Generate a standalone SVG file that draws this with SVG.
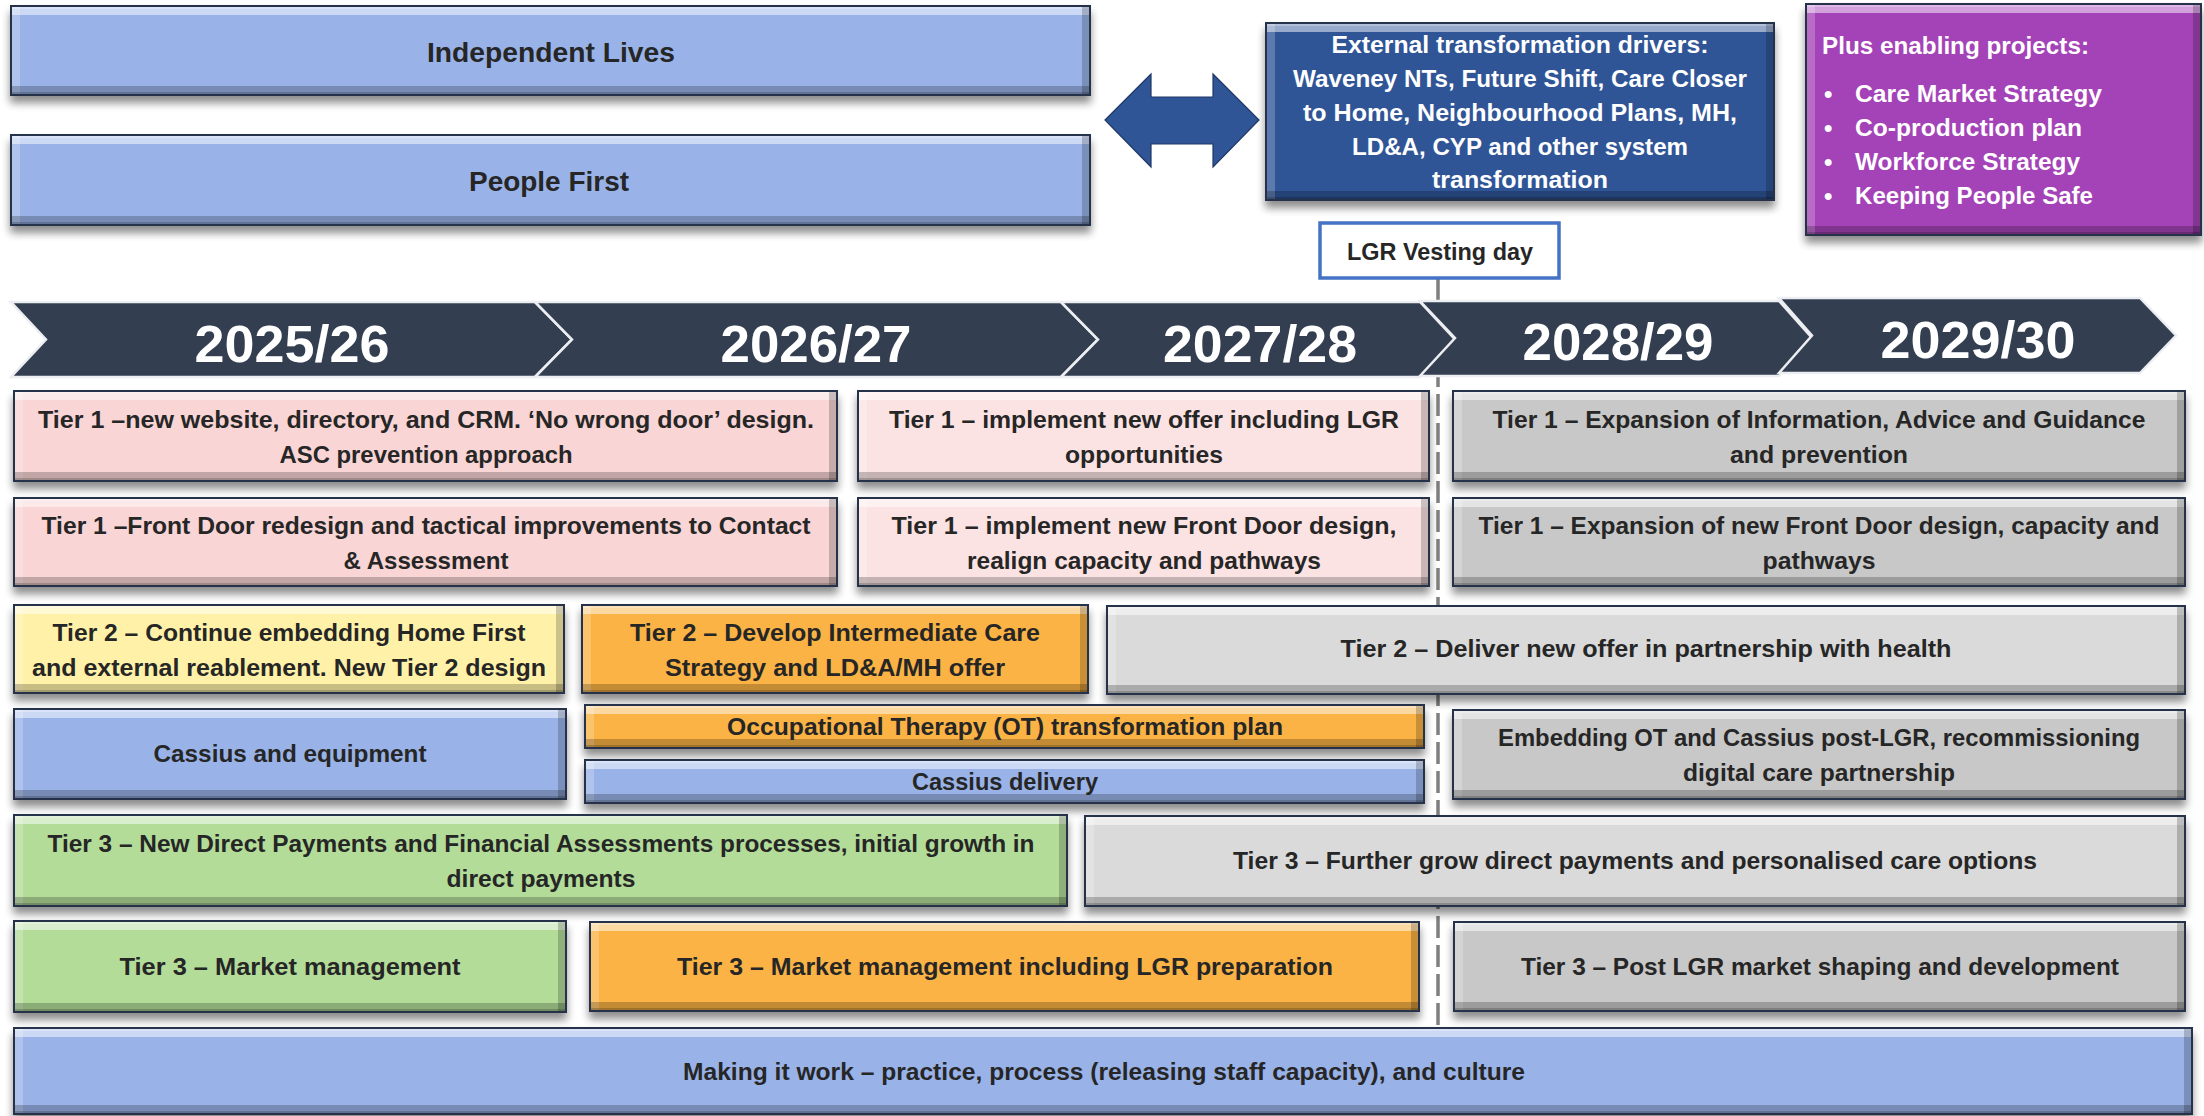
<svg xmlns="http://www.w3.org/2000/svg" width="2204" height="1116" viewBox="0 0 2204 1116">
  <defs>
    <style>
      .t { font-family: "Liberation Sans", Arial, sans-serif; font-weight: bold; font-size: 24px; fill: #262626; text-anchor: middle; }
      .big { font-size: 27px; }
      .w { fill: #ffffff; }
      .s { text-anchor: start; }
      .yr { font-family: "Liberation Sans", Arial, sans-serif; font-weight: bold; font-size: 52px; fill: #ffffff; text-anchor: middle; }
      .box { filter: url(#bevel); }
      .blue { fill: #99b3e8; }
      .pink { fill: #f9d5d5; }
      .pink2 { fill: #fce3e3; }
      .grey { fill: #c8c8c8; }
      .grey2 { fill: #dadada; }
      .yellow { fill: #fff2a8; }
      .orange { fill: #fbb345; }
      .green { fill: #b3dc99; }
      .navy { fill: #2f5597; }
      .purple { fill: #a443b7; }
      .chev { fill: #333f50; stroke: #eceef1; stroke-width: 2.5; stroke-linejoin: miter; }
      .link { stroke-width: 15; fill: none; opacity: 0.9; filter: url(#soft); }
      .lk-pink { stroke: #f5bcbe; }
      .lk-yellow { stroke: #fbe28e; }
      .lk-blue { stroke: #86a3dc; }
      .lk-green { stroke: #a8d28c; }
    </style>
    <!-- bevelled box: soft drop shadow, light top/left bands, dark right/bottom bands, navy outline -->
    <filter id="bevel" x="-2%" y="-25%" width="104%" height="175%" color-interpolation-filters="sRGB">
      <feGaussianBlur in="SourceAlpha" stdDeviation="4" result="sb"/>
      <feOffset in="sb" dy="7" result="so"/>
      <feComponentTransfer in="so" result="shadow">
        <feFuncA type="linear" slope="0.45"/>
      </feComponentTransfer>
      <feOffset in="SourceAlpha" dy="10" result="o1"/>
      <feComposite in="SourceAlpha" in2="o1" operator="out" result="m1"/>
      <feFlood flood-color="#ffffff" flood-opacity="0.5"/>
      <feComposite in2="m1" operator="in" result="top"/>
      <feOffset in="SourceAlpha" dy="4" result="o1b"/>
      <feComposite in="SourceAlpha" in2="o1b" operator="out" result="m1b"/>
      <feFlood flood-color="#ffffff" flood-opacity="0.25"/>
      <feComposite in2="m1b" operator="in" result="top2"/>
      <feOffset in="SourceAlpha" dx="10" result="o2"/>
      <feComposite in="SourceAlpha" in2="o2" operator="out" result="m2"/>
      <feFlood flood-color="#ffffff" flood-opacity="0.22"/>
      <feComposite in2="m2" operator="in" result="left"/>
      <feOffset in="SourceAlpha" dx="-9" result="o3"/>
      <feComposite in="SourceAlpha" in2="o3" operator="out" result="m3"/>
      <feFlood flood-color="#000000" flood-opacity="0.2"/>
      <feComposite in2="m3" operator="in" result="right"/>
      <feOffset in="SourceAlpha" dy="-10" result="o4"/>
      <feComposite in="SourceAlpha" in2="o4" operator="out" result="m4"/>
      <feFlood flood-color="#000000" flood-opacity="0.22"/>
      <feComposite in2="m4" operator="in" result="bottom"/>
      <feOffset in="SourceAlpha" dy="-4" result="o4b"/>
      <feComposite in="SourceAlpha" in2="o4b" operator="out" result="m4b"/>
      <feFlood flood-color="#000000" flood-opacity="0.18"/>
      <feComposite in2="m4b" operator="in" result="bottom2"/>
      <feMorphology in="SourceAlpha" operator="erode" radius="1.5" result="er"/>
      <feComposite in="SourceAlpha" in2="er" operator="out" result="m5"/>
      <feFlood flood-color="#25324a"/>
      <feComposite in2="m5" operator="in" result="edge"/>
      <feMerge>
        <feMergeNode in="shadow"/>
        <feMergeNode in="SourceGraphic"/>
        <feMergeNode in="top"/>
        <feMergeNode in="top2"/>
        <feMergeNode in="left"/>
        <feMergeNode in="right"/>
        <feMergeNode in="bottom"/>
        <feMergeNode in="bottom2"/>
        <feMergeNode in="edge"/>
      </feMerge>
    </filter>
    <filter id="soft" x="-20%" y="-50%" width="140%" height="200%">
      <feGaussianBlur stdDeviation="1"/>
    </filter>
  </defs>

  <rect width="2204" height="1116" fill="#ffffff"/>

  <!-- strategy banners -->
  <g id="independent-lives">
    <rect class="box blue" x="10" y="5" width="1081" height="91"/>
    <text class="t big" x="551" y="62" textLength="248" lengthAdjust="spacingAndGlyphs">Independent Lives</text>
  </g>
  <g id="people-first">
    <rect class="box blue" x="10" y="134" width="1081" height="92"/>
    <text class="t big" x="549" y="191" textLength="160" lengthAdjust="spacingAndGlyphs">People First</text>
  </g>

  <!-- two-way arrow between banners and external drivers -->
  <g id="two-way-arrow">
    <polygon points="1105,120 1151,74 1151,97 1213,97 1213,74 1259,120 1213,167 1213,144 1151,144 1151,167" fill="#2f5597" stroke="#1f3864" stroke-width="1.2"/>
  </g>

  <g id="external-drivers">
    <rect class="box navy" x="1265" y="22" width="510" height="179"/>
    <text class="t w" x="1520" y="53" textLength="377" lengthAdjust="spacingAndGlyphs">External transformation drivers:</text>
    <text class="t w" x="1520" y="87" textLength="454" lengthAdjust="spacingAndGlyphs">Waveney NTs, Future Shift, Care Closer</text>
    <text class="t w" x="1520" y="121" textLength="434" lengthAdjust="spacingAndGlyphs">to Home, Neighbourhood Plans, MH,</text>
    <text class="t w" x="1520" y="155" textLength="336" lengthAdjust="spacingAndGlyphs">LD&amp;A, CYP and other system</text>
    <text class="t w" x="1520" y="188" textLength="176" lengthAdjust="spacingAndGlyphs">transformation</text>
  </g>

  <g id="enabling-projects">
    <rect class="box purple" x="1805" y="3" width="397" height="233"/>
    <text class="t w s" x="1822" y="54" textLength="267" lengthAdjust="spacingAndGlyphs">Plus enabling projects:</text>
    <text class="t w s" x="1824" y="102">•</text>
    <text class="t w s" x="1855" y="102" textLength="247" lengthAdjust="spacingAndGlyphs">Care Market Strategy</text>
    <text class="t w s" x="1824" y="136">•</text>
    <text class="t w s" x="1855" y="136" textLength="227" lengthAdjust="spacingAndGlyphs">Co-production plan</text>
    <text class="t w s" x="1824" y="170">•</text>
    <text class="t w s" x="1855" y="170" textLength="225" lengthAdjust="spacingAndGlyphs">Workforce Strategy</text>
    <text class="t w s" x="1824" y="204">•</text>
    <text class="t w s" x="1855" y="204" textLength="238" lengthAdjust="spacingAndGlyphs">Keeping People Safe</text>
  </g>

  <!-- vesting day marker line -->
  <g id="vesting-line">
    <line x1="1438" y1="278" x2="1438" y2="1027" stroke="#7f7f7f" stroke-width="3.5" stroke-dasharray="22 7"/>
  </g>

  <g id="lgr-vesting-day">
    <rect x="1320" y="223" width="239" height="55" fill="#ffffff" stroke="#4472c4" stroke-width="3.5"/>
    <text class="t" x="1440" y="260" fill="#111" textLength="186" lengthAdjust="spacingAndGlyphs">LGR Vesting day</text>
  </g>

  <!-- year chevrons -->
  <g id="year-2025-26">
    <polygon class="chev" points="11,302 535,302 572,339.5 535,377 11,377 46,339.5"/>
    <text class="yr" x="292" y="362" textLength="195" lengthAdjust="spacingAndGlyphs">2025/26</text>
  </g>
  <g id="year-2026-27">
    <polygon class="chev" points="535,302 1061,302 1098,339.5 1061,377 535,377 572,339.5"/>
    <text class="yr" x="816" y="362" textLength="191" lengthAdjust="spacingAndGlyphs">2026/27</text>
  </g>
  <g id="year-2027-28">
    <polygon class="chev" points="1061,302 1420,302 1455,339.5 1420,377 1061,377 1098,339.5"/>
    <text class="yr" x="1260" y="362" textLength="194" lengthAdjust="spacingAndGlyphs">2027/28</text>
  </g>
  <g id="year-2028-29">
    <polygon class="chev" points="1420,301 1779,301 1812,338 1779,376 1420,376 1455,338"/>
    <text class="yr" x="1618" y="360" textLength="191" lengthAdjust="spacingAndGlyphs">2028/29</text>
  </g>
  <g id="year-2029-30">
    <polygon class="chev" points="1779,298 2140,298 2176,335.5 2140,373 1779,373 1812,335.5"/>
    <text class="yr" x="1978" y="358" textLength="195" lengthAdjust="spacingAndGlyphs">2029/30</text>
  </g>

  <!-- Tier 1: information and prevention -->
  <g id="t1-website">
    <rect class="box pink" x="13" y="390" width="825" height="92"/>
    <text class="t" x="426" y="428" textLength="776" lengthAdjust="spacingAndGlyphs">Tier 1 –new website, directory, and CRM. ‘No wrong door’ design.</text>
    <text class="t" x="426" y="463" textLength="293" lengthAdjust="spacingAndGlyphs">ASC prevention approach</text>
  </g>
  <g id="t1-new-offer">
    <rect class="box pink2" x="857" y="390" width="573" height="92"/>
    <text class="t" x="1144" y="428" textLength="510" lengthAdjust="spacingAndGlyphs">Tier 1 – implement new offer including LGR</text>
    <text class="t" x="1144" y="463" textLength="158" lengthAdjust="spacingAndGlyphs">opportunities</text>
  </g>
  <g id="t1-iag-expansion">
    <rect class="box grey" x="1452" y="390" width="734" height="92"/>
    <text class="t" x="1819" y="428" textLength="653" lengthAdjust="spacingAndGlyphs">Tier 1 – Expansion of Information, Advice and Guidance</text>
    <text class="t" x="1819" y="463" textLength="178" lengthAdjust="spacingAndGlyphs">and prevention</text>
  </g>

  <!-- Tier 1: front door -->
  <g id="t1-front-door">
    <rect class="box pink" x="13" y="497" width="825" height="90"/>
    <text class="t" x="426" y="534" textLength="769" lengthAdjust="spacingAndGlyphs">Tier 1 –Front Door redesign and tactical improvements to Contact</text>
    <text class="t" x="426" y="569" textLength="165" lengthAdjust="spacingAndGlyphs">&amp; Assessment</text>
  </g>
  <g id="t1-front-door-implement">
    <rect class="box pink2" x="857" y="497" width="573" height="90"/>
    <text class="t" x="1144" y="534" textLength="505" lengthAdjust="spacingAndGlyphs">Tier 1 – implement new Front Door design,</text>
    <text class="t" x="1144" y="569" textLength="354" lengthAdjust="spacingAndGlyphs">realign capacity and pathways</text>
  </g>
  <g id="t1-front-door-expansion">
    <rect class="box grey" x="1452" y="497" width="734" height="90"/>
    <text class="t" x="1819" y="534" textLength="681" lengthAdjust="spacingAndGlyphs">Tier 1 – Expansion of new Front Door design, capacity and</text>
    <text class="t" x="1819" y="569" textLength="113" lengthAdjust="spacingAndGlyphs">pathways</text>
  </g>

  <!-- Tier 2 -->
  <g id="t2-home-first">
    <rect class="box yellow" x="13" y="604" width="552" height="90"/>
    <text class="t" x="289" y="641" textLength="473" lengthAdjust="spacingAndGlyphs">Tier 2 – Continue embedding Home First</text>
    <text class="t" x="289" y="676" textLength="514" lengthAdjust="spacingAndGlyphs">and external reablement. New Tier 2 design</text>
  </g>
  <g id="t2-intermediate-care">
    <rect class="box orange" x="581" y="604" width="508" height="90"/>
    <text class="t" x="835" y="641" textLength="410" lengthAdjust="spacingAndGlyphs">Tier 2 – Develop Intermediate Care</text>
    <text class="t" x="835" y="676" textLength="340" lengthAdjust="spacingAndGlyphs">Strategy and LD&amp;A/MH offer</text>
  </g>
  <g id="t2-deliver">
    <rect class="box grey2" x="1106" y="605" width="1080" height="90"/>
    <text class="t" x="1646" y="657" textLength="611" lengthAdjust="spacingAndGlyphs">Tier 2 – Deliver new offer in partnership with health</text>
  </g>

  <!-- OT and equipment -->
  <g id="cassius-equipment">
    <rect class="box blue" x="13" y="708" width="554" height="92"/>
    <text class="t" x="290" y="762" textLength="273" lengthAdjust="spacingAndGlyphs">Cassius and equipment</text>
  </g>
  <g id="ot-plan">
    <rect class="box orange" x="584" y="704" width="841" height="45"/>
    <text class="t" x="1005" y="735" textLength="556" lengthAdjust="spacingAndGlyphs">Occupational Therapy (OT) transformation plan</text>
  </g>
  <g id="cassius-delivery">
    <rect class="box blue" x="584" y="759" width="841" height="45"/>
    <text class="t" x="1005" y="790" textLength="186" lengthAdjust="spacingAndGlyphs">Cassius delivery</text>
  </g>
  <g id="embedding-ot">
    <rect class="box grey" x="1452" y="709" width="734" height="91"/>
    <text class="t" x="1819" y="746" textLength="642" lengthAdjust="spacingAndGlyphs">Embedding OT and Cassius post-LGR, recommissioning</text>
    <text class="t" x="1819" y="781" textLength="272" lengthAdjust="spacingAndGlyphs">digital care partnership</text>
  </g>

  <!-- Tier 3: direct payments -->
  <g id="t3-direct-payments">
    <rect class="box green" x="13" y="814" width="1055" height="93"/>
    <text class="t" x="541" y="852" textLength="987" lengthAdjust="spacingAndGlyphs">Tier 3 – New Direct Payments and Financial Assessments processes, initial growth in</text>
    <text class="t" x="541" y="887" textLength="189" lengthAdjust="spacingAndGlyphs">direct payments</text>
  </g>
  <g id="t3-grow-dp">
    <rect class="box grey2" x="1084" y="815" width="1102" height="92"/>
    <text class="t" x="1635" y="869" textLength="804" lengthAdjust="spacingAndGlyphs">Tier 3 – Further grow direct payments and personalised care options</text>
  </g>

  <!-- Tier 3: market -->
  <g id="t3-market">
    <rect class="box green" x="13" y="920" width="554" height="93"/>
    <text class="t" x="290" y="975" textLength="341" lengthAdjust="spacingAndGlyphs">Tier 3 – Market management</text>
  </g>
  <g id="t3-market-lgr">
    <rect class="box orange" x="589" y="921" width="831" height="91"/>
    <text class="t" x="1005" y="975" textLength="656" lengthAdjust="spacingAndGlyphs">Tier 3 – Market management including LGR preparation</text>
  </g>
  <g id="t3-market-shaping">
    <rect class="box grey" x="1453" y="921" width="733" height="91"/>
    <text class="t" x="1820" y="975" textLength="598" lengthAdjust="spacingAndGlyphs">Tier 3 – Post LGR market shaping and development</text>
  </g>

  <!-- cross-cutting foundation -->
  <g id="making-it-work">
    <rect class="box blue" x="13" y="1027" width="2180" height="88"/>
    <text class="t" x="1104" y="1080" textLength="842" lengthAdjust="spacingAndGlyphs">Making it work – practice, process (releasing staff capacity), and culture</text>
  </g>

  <!-- connectors linking consecutive workstreams (drawn in the gaps between boxes) -->
  <g id="connectors">
    <line class="link lk-pink" x1="840" y1="436" x2="855" y2="436"/>
    <line class="link lk-pink" x1="1432" y1="436" x2="1450" y2="436"/>
    <line class="link lk-pink" x1="840" y1="533" x2="855" y2="533"/>
    <line class="link lk-pink" x1="1432" y1="533" x2="1450" y2="533"/>
    <line class="link lk-yellow" x1="567" y1="625" x2="579" y2="625"/>
    <line class="link lk-yellow" x1="1091" y1="625" x2="1104" y2="625"/>
    <line class="link lk-blue" x1="569" y1="734" x2="582" y2="734"/>
    <line class="link lk-blue" x1="1427" y1="735" x2="1450" y2="735"/>
    <line class="link lk-green" x1="1070" y1="843" x2="1082" y2="843"/>
    <line class="link lk-green" x1="569" y1="964" x2="587" y2="964"/>
    <line class="link lk-green" x1="1422" y1="963" x2="1451" y2="963"/>
  </g>
</svg>
